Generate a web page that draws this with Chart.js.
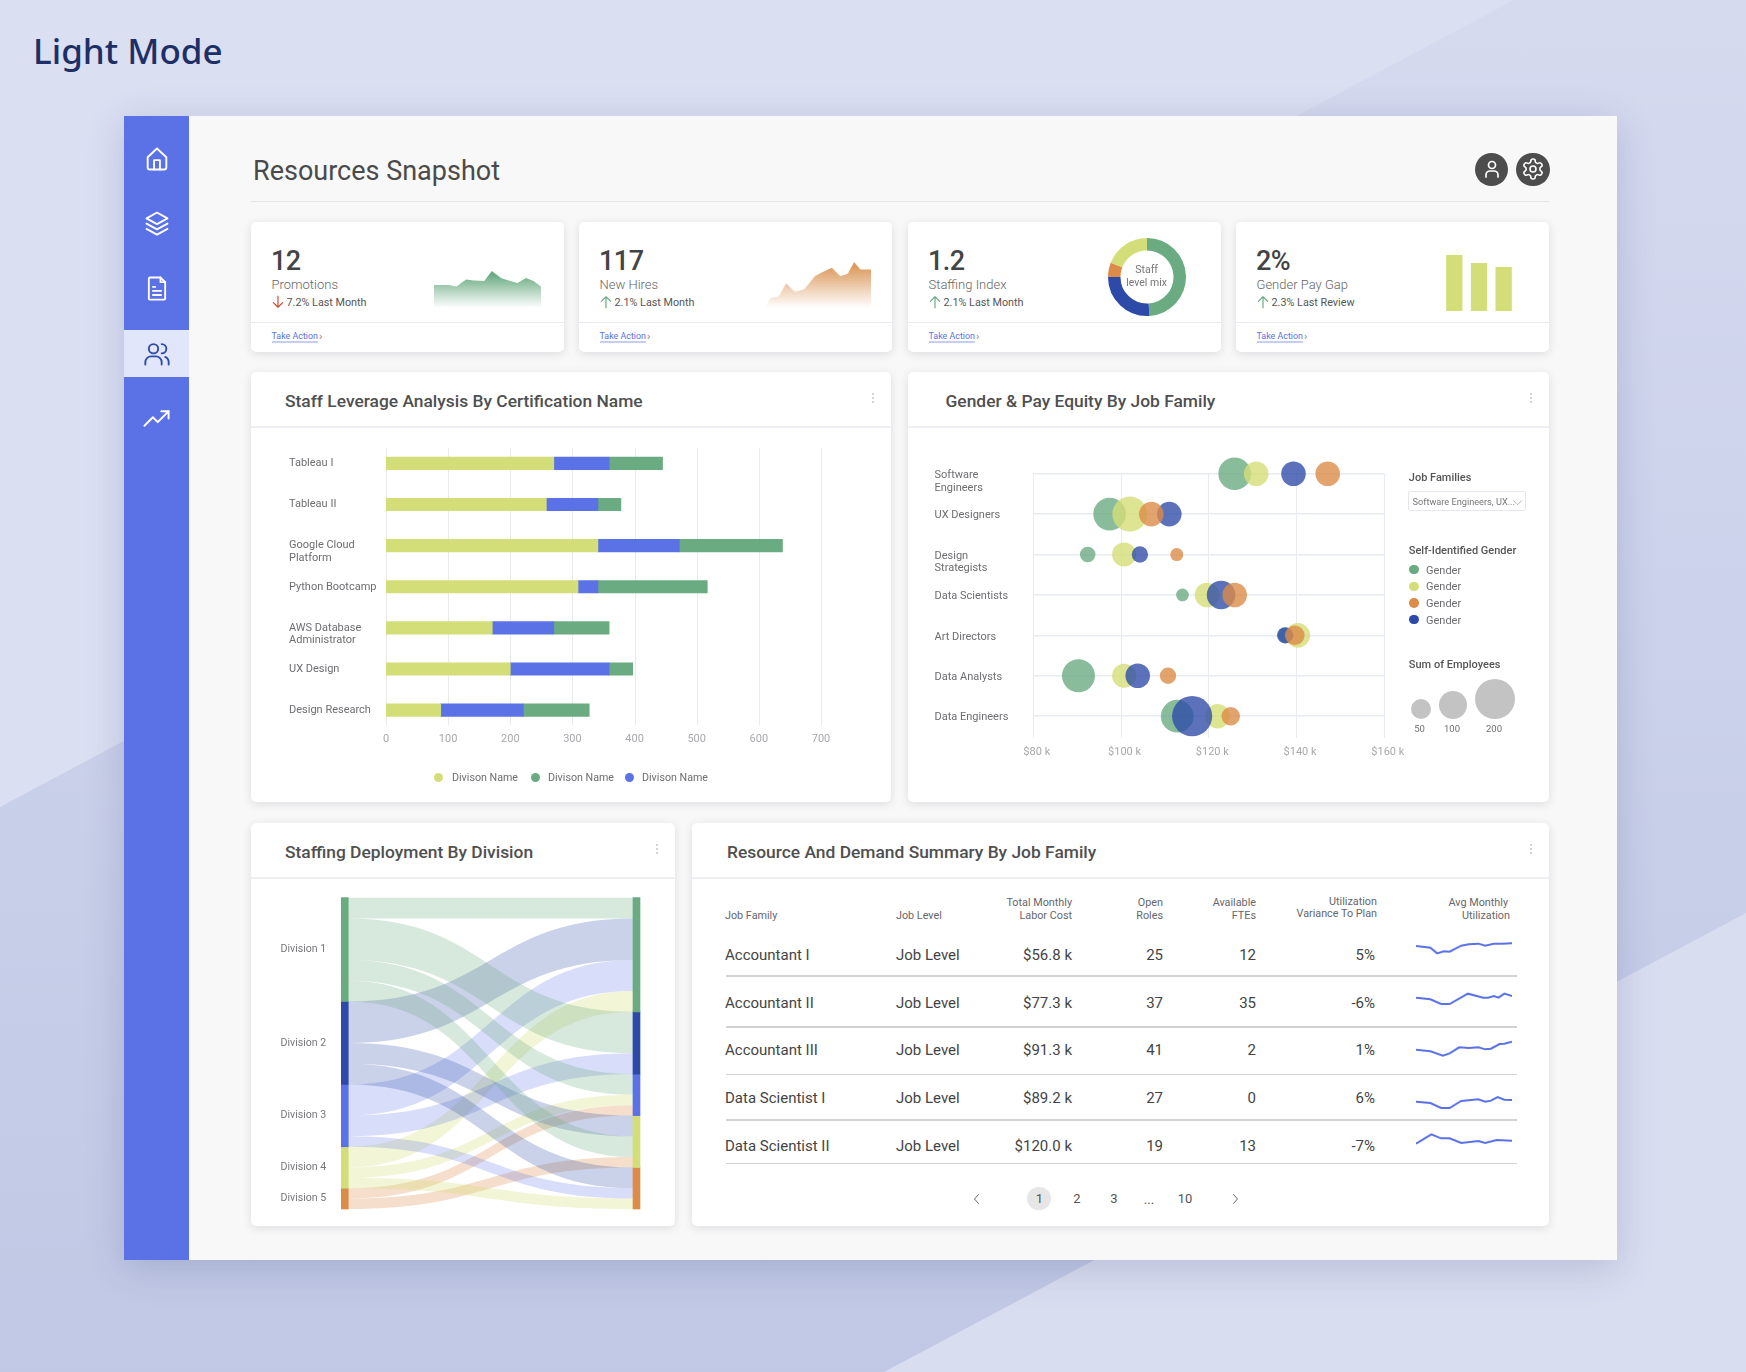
<!DOCTYPE html>
<html>
<head>
<meta charset="utf-8">
<title>Resources Snapshot</title>
<script src="https://cdn.jsdelivr.net/npm/chart.js@4"></script>
<style>
html, body { margin: 0; padding: 0; }
body { width: 1746px; height: 1372px; position: relative; overflow: hidden; font-family: Roboto, sans-serif; color: #4a4a4a;
  background: linear-gradient(to bottom, #d5daef, #c0c8e5); }
.abs { position: absolute; }
.txt { position: absolute; white-space: nowrap; transform: translateY(-50%); }
.card { position: absolute; background: #fff; border-radius: 5px; box-shadow: 0 2px 8px rgba(60,60,80,.14); }
canvas { position: absolute; display: block; }
.line { position: absolute; height: 1px; background: #e8e9f2; }
</style>
</head>
<body>
<script>
// ---- data -----------------------------------------------------------------
var promoDays = [0, 14, 21, 30, 37, 47, 54, 63, 72, 78, 86, 93, 100];
var promoValues = [70, 70, 65, 86, 83, 82, 112, 90, 81, 76, 91, 82, 65];
var hireDays = [0, 5, 13, 20, 28, 37, 47, 53, 63, 71, 78, 84, 90, 100];
var hireValues = [0, 33, 40, 83, 55, 63, 107, 119, 136, 107, 115, 155, 130, 130];
var staffMix = [49, 26, 6, 19];
var payGap = [56, 48, 44];

var certNames = ['Tableau I', 'Tableau II', ['', 'Google Cloud', 'Platform'], 'Python Bootcamp', ['', 'AWS Database', 'Administrator'], 'UX Design', 'Design Research'];
var divisionYellow = [270, 258, 341, 309, 171, 200, 88];
var divisionBlue = [89, 83, 131, 32, 99, 159, 133];
var divisionGreen = [86, 37, 166, 176, 89, 38, 106];

var jobFamilyTicks = [['', 'Software', 'Engineers'], 'UX Designers', ['', 'Design', 'Strategists'], 'Data Scientists', 'Art Directors', 'Data Analysts', 'Data Engineers'];
var payGreen = [125.9, 97.4, 92.4, 114, 137.5, 90.3, 112.8];
var staffGreen = [132, 132, 30, 20, 30, 135, 132];
var payYellow = [130.8, 102, 100.7, 119.6, 140.3, 100.7, 122];
var staffYellow = [75, 152, 72, 75, 75, 72, 75];
var payOrange = [147.1, 106.9, 112.7, 125.9, 139.6, 110.7, 125];
var staffOrange = [75, 75, 21, 75, 48, 33, 42];
var payBlue = [139.3, 111, 104.3, 122.8, 137.4, 103.8, 116.2];
var staffBlue = [75, 75, 33, 101, 33, 75, 200];
var employeeSizes = [50, 100, 200];

var divisions = ['Division 1', 'Division 2', 'Division 3', 'Division 4', 'Division 5'];
var sourceTotals = [10, 8, 6, 4, 2];
var targetTotals = [11, 6, 4, 5, 4];
var flowSource = [0, 1, 2, 3, 0, 2, 0, 3, 4, 1, 0, 4, 1, 2, 3];
var flowTarget = [0, 0, 0, 0, 1, 1, 2, 2, 2, 3, 3, 3, 4, 4, 4];
var flowValue = [2, 4, 3, 2, 4, 2, 2, 1, 1, 2, 2, 1, 2, 1, 1];

var rowFamily = ['Accountant I', 'Accountant II', 'Accountant III', 'Data Scientist I', 'Data Scientist II'];
var rowCost = ['$56.8 k', '$77.3 k', '$91.3 k', '$89.2 k', '$120.0 k'];
var rowRoles = ['25', '37', '41', '27', '19'];
var rowFtes = ['12', '35', '2', '0', '13'];
var rowVariance = ['5%', '-6%', '1%', '6%', '-7%'];
var utilDays = [
  [0, 15, 22, 29, 35, 47, 55, 65, 72, 81, 89, 100],
  [0, 15, 26, 35, 54, 70, 75, 81, 86, 92, 100],
  [0, 15, 28, 35, 45, 55, 65, 72, 78, 87, 92, 100],
  [0, 15, 26, 35, 47, 65, 72, 78, 85, 92, 100],
  [0, 16, 26, 35, 47, 65, 72, 84, 100]
];
var utilValues = [
  [72, 67, 50, 56, 55, 73, 77, 79, 73, 79, 79, 80],
  [67, 62, 48, 48, 79, 67, 67, 72, 67, 79, 72],
  [55, 50, 37, 44, 62, 60, 62, 56, 58, 72, 73, 79],
  [61, 57, 42, 42, 63, 68, 61, 64, 75, 67, 66],
  [52, 80, 68, 68, 54, 60, 54, 63, 61]
];

// ---- colours --------------------------------------------------------------
var GREEN = '#6aab82', YELLOW = '#d4de78', ORANGE = '#dc8c48', NAVY = '#2d4aa8', BLUE = '#5a72e6';
var sankeyColors = [GREEN, NAVY, BLUE, YELLOW, ORANGE];
var ribbonColors = ['rgba(106,171,130,.27)', 'rgba(45,74,168,.25)', 'rgba(90,114,230,.24)', 'rgba(212,222,120,.3)', 'rgba(220,140,72,.28)'];

// ---- dom helpers ----------------------------------------------------------
function el(tag, cls, css, html) {
  var e = document.createElement(tag);
  if (cls) e.className = cls;
  if (css) e.style.cssText = css;
  if (html !== undefined) e.innerHTML = html;
  document.body.appendChild(e);
  return e;
}
function box(cls, x, y, w, h, css) {
  return el('div', cls, 'left:' + x + 'px;top:' + y + 'px;width:' + w + 'px;height:' + h + 'px;' + (css || ''));
}
// text placed by its vertical centre; right aligned when align is 'r', centred when 'c'
function put(x, y, str, css, align) {
  var pos = 'top:' + y + 'px;';
  if (align === 'r') pos += 'right:' + (1746 - x) + 'px;';
  else if (align === 'c') pos += 'left:' + x + 'px;transform:translate(-50%,-50%);';
  else pos += 'left:' + x + 'px;';
  return el('div', 'txt', pos + (css || ''), str);
}
function icon(x, y, size, color, width, inner) {
  el('div', 'abs', 'left:' + (x - size / 2) + 'px;top:' + (y - size / 2) + 'px;width:' + size + 'px;height:' + size + 'px;line-height:0',
    '<svg width="' + size + '" height="' + size + '" viewBox="0 0 24 24" fill="none" stroke="' + color + '" stroke-width="' + width + '" stroke-linecap="round" stroke-linejoin="round">' + inner + '</svg>');
}
function mount(x, y, w, h) {
  var c = document.createElement('canvas');
  c.width = w; c.height = h;
  c.style.cssText = 'left:' + x + 'px;top:' + y + 'px;width:' + w + 'px;height:' + h + 'px;';
  document.body.appendChild(c);
  return c.getContext('2d');
}
function kebab(x, y) {
  for (var i = 0; i < 3; i++) box('abs', x - 1, y + i * 4.2, 2, 2, 'background:#c4c4c8;border-radius:50%');
}

// ---- page chrome ----------------------------------------------------------
el('div', 'abs', 'left:0;top:0;width:1746px;height:1372px;background:#dadff2;clip-path:polygon(0 0,1514px 0,0 807px)');
el('div', 'abs', 'left:0;top:0;width:1746px;height:1372px;background:#d9ddf0;clip-path:polygon(1746px 913px,1746px 1372px,884px 1372px)');
put(33, 50, 'Light Mode', 'font:500 35px "Noto Sans",sans-serif;color:#1d2f66');

box('abs', 124, 116, 1493, 1144, 'background:#f8f8f8;box-shadow:0 8px 36px rgba(50,60,120,.2)');
box('abs', 124, 116, 64.5, 1144, 'background:' + BLUE);
box('abs', 124, 330, 64.5, 47, 'background:#e1e6fa');
icon(156.5, 159, 28, '#fff', 1.6, '<path d="M4 10.5 12 3l8 7.5V19a2 2 0 0 1-2 2H6a2 2 0 0 1-2-2Z"/><path d="M9.5 21v-8h5v8"/>');
icon(156.5, 223, 28, '#fff', 1.6, '<path d="M12 3 3 8l9 5 9-5Z"/><path d="m3 12.5 9 5 9-5"/><path d="m3 17 9 5 9-5"/>');
icon(156.5, 288, 28, '#fff', 1.6, '<path d="M5 4a1 1 0 0 1 1-1h9l4 4v14a1 1 0 0 1-1 1H6a1 1 0 0 1-1-1Z"/><path d="M15 3v4h4"/><path d="M8.5 11h2M8.5 14.5h7M8.5 18h7"/>');
icon(156.5, 354, 28, NAVY, 1.6, '<circle cx="9" cy="7.5" r="4"/><path d="M2 21v-2a5 5 0 0 1 5-5h4a5 5 0 0 1 5 5v2"/><path d="M16 3.5a4 4 0 0 1 0 8"/><path d="M19 14.5a5 5 0 0 1 3 4.5v2"/>');
icon(156.5, 418, 29, '#fff', 1.6, '<path d="m2 18 7-7 4 4 9-9"/><path d="M16 6h6v6"/>');

put(253, 171, 'Resources Snapshot', 'font:400 27px Roboto,sans-serif;color:#4a4a4a');
box('line', 251, 201, 1298, 1, 'background:#e6e6e8');
box('abs', 1475, 152.5, 33.4, 33.4, 'background:#4d4d4d;border-radius:50%');
box('abs', 1516.3, 152.5, 33.4, 33.4, 'background:#4d4d4d;border-radius:50%');
icon(1491.7, 169, 24, '#fff', 1.7, '<circle cx="12" cy="8" r="3.5"/><path d="M6 20v-2a4 4 0 0 1 4-4h4a4 4 0 0 1 4 4v2"/>');
icon(1533, 169, 24, '#fff', 1.6, '<path d="M12.22 2h-.44a2 2 0 0 0-2 2v.18a2 2 0 0 1-1 1.73l-.43.25a2 2 0 0 1-2 0l-.15-.08a2 2 0 0 0-2.73.73l-.22.38a2 2 0 0 0 .73 2.73l.15.1a2 2 0 0 1 1 1.72v.51a2 2 0 0 1-1 1.74l-.15.09a2 2 0 0 0-.73 2.73l.22.38a2 2 0 0 0 2.73.73l.15-.08a2 2 0 0 1 2 0l.43.25a2 2 0 0 1 1 1.73V20a2 2 0 0 0 2 2h.44a2 2 0 0 0 2-2v-.18a2 2 0 0 1 1-1.73l.43-.25a2 2 0 0 1 2 0l.15.08a2 2 0 0 0 2.73-.73l.22-.39a2 2 0 0 0-.73-2.73l-.15-.08a2 2 0 0 1-1-1.74v-.5a2 2 0 0 1 1-1.74l.15-.09a2 2 0 0 0 .73-2.73l-.22-.38a2 2 0 0 0-2.73-.73l-.15.08a2 2 0 0 1-2 0l-.43-.25a2 2 0 0 1-1-1.73V4a2 2 0 0 0-2-2z"/><circle cx="12" cy="12" r="3"/>');

// ---- kpi cards ------------------------------------------------------------
function kpiCard(x, num, label, delta, up) {
  box('card', x, 222, 313, 130);
  put(x + 20, 261, num, 'font:500 27px Roboto,sans-serif;letter-spacing:-.5px;color:#444');
  put(x + 20.5, 284, label, 'font:300 13px Roboto,sans-serif;color:#666');
  var color = up ? GREEN : '#c4502e';
  icon(x + 26.5, 302, 14, color, 2, up ? '<path d="M12 22V3M4 11l8-8 8 8"/>' : '<path d="M12 2v19M4 13l8 8 8-8"/>');
  put(x + 35.5, 302, delta, 'font:400 10.8px Roboto,sans-serif;color:#555');
  box('line', x, 322, 313, 1);
  put(x + 20.5, 336, 'Take Action', 'font:400 8.9px Roboto,sans-serif;color:' + BLUE + ';border-bottom:1px solid #8e9dec;line-height:12px');
  put(x + 68, 336, '›', 'font:400 11px Roboto,sans-serif;color:#888');
}
kpiCard(251, '12', 'Promotions', '7.2% Last Month', false);
kpiCard(579, '117', 'New Hires', '2.1% Last Month', true);
kpiCard(908, '1.2', 'Staffing Index', '2.1% Last Month', true);
kpiCard(1236, '2%', 'Gender Pay Gap', '2.3% Last Review', true);

// ---- panels ---------------------------------------------------------------
function panel(x, y, w, h, title, titleX) {
  box('card', x, y, w, h);
  box('line', x, y + 54, w, 1.5, 'background:#eff0f6');
  put(titleX, y + 29, title, 'font:500 17.4px Roboto,sans-serif;color:#4f4f4f');
  kebab(x + w - 18, y + 21);
}
panel(251, 372, 640, 430, 'Staff Leverage Analysis By Certification Name', 285);
panel(908, 372, 641, 430, 'Gender &amp; Pay Equity By Job Family', 945.5);
panel(251, 823, 424, 403, 'Staffing Deployment By Division', 285);
panel(692, 823, 857, 403, 'Resource And Demand Summary By Job Family', 727);

// ---- charts ---------------------------------------------------------------
Chart.defaults.animation = false;
Chart.defaults.font.family = 'Roboto, sans-serif';
Chart.defaults.plugins.tooltip.enabled = false;

function areaChart(ctx, days, values, top, maxValue) {
  var pts = days.map(function(d, i) { return { x: d, y: values[i] }; });
  return new Chart(ctx, {
    type: 'line',
    data: { datasets: [{
      data: pts, borderWidth: 0, pointRadius: 0, tension: 0, fill: 'origin',
      backgroundColor: function(c) {
        var a = c.chart.chartArea;
        if (!a) return top;
        var g = c.chart.ctx.createLinearGradient(0, a.top + a.height * 0.1, 0, a.bottom);
        g.addColorStop(0, top);
        g.addColorStop(1, 'rgba(255,255,255,0.95)');
        return g;
      }
    }] },
    options: {
      responsive: false,
      layout: { padding: 0 },
      plugins: { legend: { display: false } },
      scales: {
        x: { type: 'linear', min: 0, max: 100, display: false },
        y: { min: 0, max: maxValue, display: false }
      }
    }
  });
}
areaChart(mount(434, 271, 107, 37), promoDays, promoValues, GREEN, 112);
areaChart(mount(765, 262, 105.5, 46), hireDays, hireValues, '#dc9a5e', 155);

new Chart(mount(1106.6, 236.7, 80, 80), {
  type: 'doughnut',
  data: { labels: ['Green', 'Navy', 'Orange', 'Yellow'], datasets: [{ data: staffMix, backgroundColor: [GREEN, NAVY, ORANGE, YELLOW], borderWidth: 0 }] },
  options: { responsive: false, cutout: '68%', layout: { padding: 1 }, plugins: { legend: { display: false } } }
});
put(1146.6, 269, 'Staff', 'font:400 10.5px Roboto,sans-serif;color:#777', 'c');
put(1146.6, 281.5, 'level mix', 'font:400 10.5px Roboto,sans-serif;color:#777', 'c');

new Chart(mount(1442, 255, 74, 56), {
  type: 'bar',
  data: { labels: ['A', 'B', 'C'], datasets: [{ data: payGap, backgroundColor: YELLOW, categoryPercentage: 1, barPercentage: 0.66 }] },
  options: {
    responsive: false,
    plugins: { legend: { display: false } },
    scales: { x: { display: false }, y: { min: 0, max: 56, display: false } }
  }
});

// grid lines that stop a little short of the chart area
var insetGrid = {
  id: 'insetGrid',
  beforeDatasetsDraw: function(chart, args, opts) {
    var c = chart.ctx, a = chart.chartArea, xs = chart.scales.x;
    c.save();
    c.strokeStyle = '#e9eaee';
    c.lineWidth = 1;
    xs.ticks.forEach(function(t) {
      var px = Math.round(xs.getPixelForValue(t.value)) + 0.5;
      c.beginPath();
      c.moveTo(px, a.top + opts.inset);
      c.lineTo(px, a.bottom - opts.inset);
      c.stroke();
    });
    c.restore();
  }
};

new Chart(mount(250, 430, 640, 365), {
  type: 'bar',
  data: {
    labels: certNames,
    datasets: [
      { label: 'Divison Name', data: divisionYellow, backgroundColor: YELLOW },
      { label: 'Divison Name', data: divisionBlue, backgroundColor: BLUE },
      { label: 'Divison Name', data: divisionGreen, backgroundColor: GREEN }
    ]
  },
  plugins: [insetGrid],
  options: {
    indexAxis: 'y',
    responsive: false,
    barThickness: 12.5,
    layout: { padding: { left: 39, right: 69, top: 12.8, bottom: 0 } },
    scales: {
      x: {
        stacked: true, min: 0, max: 700,
        grid: { display: false, drawTicks: false }, border: { display: false },
        ticks: { stepSize: 100, color: '#a9a9ad', font: { size: 11 }, padding: 2, maxRotation: 0 },
        afterFit: function(s) { s.height = 64.3; }
      },
      y: {
        stacked: true,
        grid: { display: false, drawTicks: false }, border: { display: false },
        ticks: { crossAlign: 'far', color: '#6e6e72', font: { size: 11, lineHeight: 1.15 }, autoSkip: false, padding: 0 },
        afterFit: function(s) { s.width = 97; }
      }
    },
    plugins: { insetGrid: { inset: 5.5 }, legend: { display: false } }
  }
});
// division legend
[[438.6, 452, YELLOW], [535, 548, GREEN], [629, 642, BLUE]].forEach(function(l) {
  box('abs', l[0] - 4.5, 772.5, 9, 9, 'border-radius:50%;background:' + l[2]);
  put(l[1], 777, 'Divison Name', 'font:400 10.7px Roboto,sans-serif;color:#6e6e72');
});

// bubble radius grows with the square root of the head count
function radiusFor(n) { return Math.sqrt(n) * 1.42; }
function bubbles(pay, staff) {
  return pay.map(function(p, i) { return { x: p, y: i, r: radiusFor(staff[i]) }; });
}
new Chart(mount(910, 440, 500, 330), {
  type: 'bubble',
  data: { datasets: [
    { label: 'Gender', data: bubbles(payGreen, staffGreen), backgroundColor: 'rgba(106,171,130,.8)', borderWidth: 0, clip: false, order: 4 },
    { label: 'Gender', data: bubbles(payYellow, staffYellow), backgroundColor: 'rgba(212,222,120,.8)', borderWidth: 0, clip: false, order: 3 },
    { label: 'Gender', data: bubbles(payOrange, staffOrange), backgroundColor: 'rgba(220,140,72,.8)', borderWidth: 0, clip: false, order: 1 },
    { label: 'Gender', data: bubbles(payBlue, staffBlue), backgroundColor: 'rgba(45,74,168,.78)', borderWidth: 0, clip: false, order: 2 }
  ] },
  options: {
    responsive: false,
    layout: { padding: { left: 24.5, right: 25.7, top: 33.7, bottom: 0 } },
    plugins: { legend: { display: false } },
    scales: {
      x: {
        min: 80, max: 160,
        grid: { color: '#e9ebf2', lineWidth: 1, drawTicks: false }, border: { display: false },
        ticks: { stepSize: 20, color: '#a9a9ad', font: { size: 11 }, padding: 7.5, maxRotation: 0, labelOffset: 3.5,
          callback: function(v) { return '$' + v + ' k'; } },
        afterFit: function(s) { s.height = 32; }
      },
      y: {
        reverse: true, min: 0, max: 6.54,
        grid: { color: '#e9ebf2', lineWidth: 1.5, drawTicks: false }, border: { display: false },
        ticks: { stepSize: 1, includeBounds: false, autoSkip: false, crossAlign: 'far', padding: 0, labelOffset: 1.5,
          color: '#6e6e72', font: { size: 11, lineHeight: 1.15 },
          callback: function(v) { return jobFamilyTicks[v]; } },
        afterFit: function(s) { s.width = 98.8; }
      }
    }
  }
});

// gender panel side legends
var sideHead = 'font:500 11px Roboto,sans-serif;color:#555';
put(1408.8, 477, 'Job Families', sideHead);
box('abs', 1408, 491, 118, 20, 'box-sizing:border-box;border:1px solid #e6e7ee;border-radius:2px;background:#fff');
put(1412.5, 501, 'Software Engineers, UX...', 'font:400 9.2px Roboto,sans-serif;color:#777');
icon(1517.5, 502, 11, '#999', 1.6, '<path d="m3 8 9 9 9-9"/>');
put(1408.8, 550, 'Self-Identified Gender', sideHead);
[GREEN, YELLOW, ORANGE, NAVY].forEach(function(c, i) {
  var y = 569.7 + i * 16.6;
  box('abs', 1409.2, y - 4.8, 9.6, 9.6, 'border-radius:50%;background:' + c);
  put(1426, y, 'Gender', 'font:400 11px Roboto,sans-serif;color:#6e6e72');
});
put(1408.8, 664, 'Sum of Employees', sideHead);
[1420.6, 1453, 1495].forEach(function(cx, i) {
  var r = radiusFor(employeeSizes[i]);
  box('abs', cx - r, 719.5 - 2 * r, 2 * r, 2 * r, 'border-radius:50%;background:#c3c3c3');
  put(cx - 1, 728, String(employeeSizes[i]), 'font:400 9.5px Roboto,sans-serif;color:#6e6e72', 'c');
});

// sankey ribbons, drawn through the chart's scales behind the node bars
var sankey = {
  id: 'sankey',
  beforeDatasetsDraw: function(chart, args, opts) {
    var c = chart.ctx, xs = chart.scales.x, ys = chart.scales.y;
    var x0 = xs.getPixelForValue(0) + opts.nodeWidth / 2;
    var x1 = xs.getPixelForValue(1) - opts.nodeWidth / 2;
    var mid = (x0 + x1) / 2;
    var leftAt = [], rightAt = [], sum = 0, i;
    for (i = 0; i < sourceTotals.length; i++) { leftAt.push(sum); sum += sourceTotals[i]; }
    sum = 0;
    for (i = 0; i < targetTotals.length; i++) { rightAt.push(sum); sum += targetTotals[i]; }
    c.save();
    flowValue.forEach(function(v, k) {
      var s = flowSource[k], t = flowTarget[k];
      var a0 = ys.getPixelForValue(leftAt[s]), a1 = ys.getPixelForValue(leftAt[s] + v);
      var b0 = ys.getPixelForValue(rightAt[t]), b1 = ys.getPixelForValue(rightAt[t] + v);
      leftAt[s] += v;
      rightAt[t] += v;
      c.beginPath();
      c.moveTo(x0, a0);
      c.bezierCurveTo(mid, a0, mid, b0, x1, b0);
      c.lineTo(x1, b1);
      c.bezierCurveTo(mid, b1, mid, a1, x0, a1);
      c.closePath();
      c.fillStyle = ribbonColors[s];
      c.fill();
    });
    // division names, on the middle of each left node
    c.fillStyle = '#77777b';
    c.font = '10.6px Roboto, sans-serif';
    c.textAlign = 'right';
    c.textBaseline = 'middle';
    var at = 0;
    divisions.forEach(function(name, d) {
      c.fillText(name, x0 - opts.nodeWidth - 15, ys.getPixelForValue(at + sourceTotals[d] / 2));
      at += sourceTotals[d];
    });
    c.restore();
  }
};
new Chart(mount(251, 890, 424, 326), {
  type: 'bar',
  data: {
    labels: ['Source', 'Target'],
    datasets: sourceTotals.map(function(v, i) {
      return { label: divisions[i], data: [v, targetTotals[i]], backgroundColor: sankeyColors[i], barThickness: 7, clip: false };
    })
  },
  plugins: [sankey],
  options: {
    responsive: false,
    layout: { padding: { left: 93.8, right: 38.5, top: 7.7, bottom: 7 } },
    plugins: { legend: { display: false }, sankey: { nodeWidth: 7 } },
    scales: {
      x: { stacked: true, offset: false, display: false },
      y: { stacked: true, reverse: true, min: 0, max: 30, display: false }
    }
  }
});

// ---- table ----------------------------------------------------------------
var headCss = 'font:400 10.8px Roboto,sans-serif;color:#66666a;';
put(725, 915, 'Job Family', headCss);
put(896, 915, 'Job Level', headCss);
put(1072, 902, 'Total Monthly', headCss, 'r');
put(1072, 915, 'Labor Cost', headCss, 'r');
put(1163, 902, 'Open', headCss, 'r');
put(1163, 915, 'Roles', headCss, 'r');
put(1256, 902, 'Available', headCss, 'r');
put(1256, 915, 'FTEs', headCss, 'r');
put(1377, 900.5, 'Utilization', headCss, 'r');
put(1377, 913, 'Variance To Plan', headCss, 'r');
put(1508, 902, 'Avg Monthly', headCss, 'r');
put(1510, 915, 'Utilization', headCss, 'r');

var rowY = [955, 1002.7, 1050.3, 1098, 1145.7];
var ruleY = [974.5, 1026, 1074, 1118.5, 1163];
var ruleH = [2, 1.5, 1, 2, 1];
var sparkTop = [940, 990, 1038.3, 1091.7, 1131];
var cellCss = 'font:400 15px Roboto,sans-serif;color:#444;';
rowFamily.forEach(function(name, i) {
  put(725, rowY[i], name, cellCss);
  put(896, rowY[i], 'Job Level', cellCss);
  put(1072, rowY[i], rowCost[i], cellCss, 'r');
  put(1163, rowY[i], rowRoles[i], cellCss, 'r');
  put(1256, rowY[i], rowFtes[i], cellCss, 'r');
  put(1375, rowY[i], rowVariance[i], cellCss, 'r');
  box('abs', 726, ruleY[i], 791, ruleH[i], 'background:#d2d2d4');
  new Chart(mount(1416.3, sparkTop[i], 95.4, 30), {
    type: 'line',
    data: { datasets: [{
      data: utilDays[i].map(function(d, k) { return { x: d, y: utilValues[i][k] }; }),
      borderColor: BLUE, borderWidth: 2, pointRadius: 0, tension: 0
    }] },
    options: {
      responsive: false,
      plugins: { legend: { display: false } },
      scales: {
        x: { type: 'linear', min: 0, max: 100, display: false },
        y: { min: 0, max: 90, display: false }
      }
    }
  });
});

// pager
box('abs', 1027.4, 1186.5, 24, 23.5, 'background:#e6e6e6;border-radius:50%');
var pageCss = 'font:400 13px Roboto,sans-serif;color:#555;';
put(1039.4, 1198, '1', pageCss, 'c');
put(1077, 1198, '2', pageCss, 'c');
put(1114, 1198, '3', pageCss, 'c');
put(1149, 1199, '...', pageCss, 'c');
put(1185, 1198, '10', pageCss, 'c');
icon(977.4, 1199, 12, '#555', 1.8, '<path d="m15 3-8 9 8 9"/>');
icon(1235, 1199, 12, '#555', 1.8, '<path d="m9 3 8 9-8 9"/>');
</script>
</body>
</html>
